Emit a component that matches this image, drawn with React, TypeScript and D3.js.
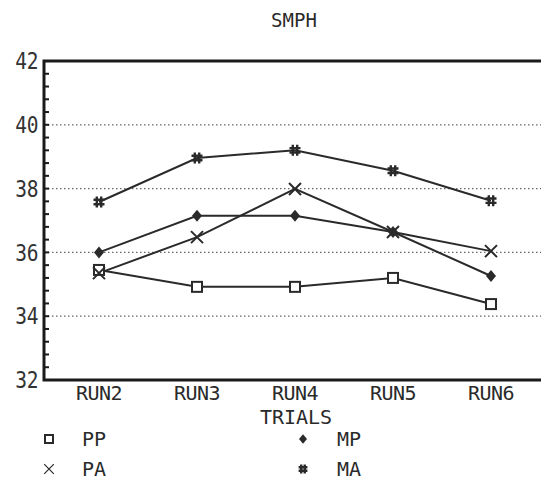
import React, { useRef, useEffect } from "react";
import * as d3 from "d3";

const trials = ["RUN2", "RUN3", "RUN4", "RUN5", "RUN6"];
const ppValues = [35.45, 34.92, 34.92, 35.2, 34.38];
const paValues = [35.35, 36.48, 37.99, 36.64, 36.04];
const mpValues = [36.0, 37.15, 37.15, 36.64, 35.26];
const maValues = [37.58, 38.96, 39.2, 38.56, 37.62];
const yTicks = [32, 34, 36, 38, 40, 42];
const gridTicks = [34, 36, 38, 40];

const seriesList = [
  { name: "PP", values: ppValues, marker: "square" },
  { name: "PA", values: paValues, marker: "x" },
  { name: "MP", values: mpValues, marker: "diamond" },
  { name: "MA", values: maValues, marker: "hash" },
];

const font = "'DejaVu Sans Mono', monospace";
const ink = "#2a2a2a";

const drawMarker = (g, type, x, y, big = true) => {
  const s = big ? 1 : 0.8;
  if (type === "square") {
    g.append("rect")
      .attr("x", x - 5 * s)
      .attr("y", y - 5 * s)
      .attr("width", 10 * s)
      .attr("height", 10 * s)
      .attr("fill", "#fff")
      .attr("stroke", ink)
      .attr("stroke-width", 2);
  } else if (type === "diamond") {
    g.append("path")
      .attr("d", `M${x},${y - 6 * s}L${x + 5 * s},${y}L${x},${y + 6 * s}L${x - 5 * s},${y}Z`)
      .attr("fill", ink);
  } else if (type === "x") {
    const r = 6 * s;
    g.append("path")
      .attr("d", `M${x - r},${y - r}L${x + r},${y + r}M${x - r},${y + r}L${x + r},${y - r}`)
      .attr("stroke", ink)
      .attr("stroke-width", big ? 2 : 1.2)
      .attr("fill", "none");
  } else {
    const r = 5.5 * s;
    const o = 2.2 * s;
    g.append("path")
      .attr(
        "d",
        `M${x - o},${y - r}L${x - o},${y + r}M${x + o},${y - r}L${x + o},${y + r}` +
          `M${x - r},${y - o}L${x + r},${y - o}M${x - r},${y + o}L${x + r},${y + o}`
      )
      .attr("stroke", ink)
      .attr("stroke-width", 2.4)
      .attr("fill", "none");
  }
};

const App = () => {
  const svgRef = useRef(null);

  useEffect(() => {
    const width = 541;
    const height = 481;
    const left = 44;
    const top = 61;
    const bottom = 380;
    const right = 545;

    const svg = d3.select(svgRef.current).attr("width", width).attr("height", height);
    svg.selectAll("*").remove();

    const x = d3.scalePoint().domain(trials).range([99, 491]);
    const y = d3.scaleLinear().domain([32, 42]).range([bottom, top]);

    // dotted grid
    svg
      .append("g")
      .selectAll("line")
      .data(gridTicks)
      .join("line")
      .attr("x1", left)
      .attr("x2", right)
      .attr("y1", (d) => y(d))
      .attr("y2", (d) => y(d))
      .attr("stroke", "#666")
      .attr("stroke-width", 1.2)
      .attr("stroke-dasharray", "1.5,2.5");

    // frame
    svg
      .append("path")
      .attr("d", `M${right},${top}L${left},${top}L${left},${bottom}L${right},${bottom}`)
      .attr("fill", "none")
      .attr("stroke", "#1a1a1a")
      .attr("stroke-width", 3);

    // minor ticks every 0.4
    const minor = d3.range(0, 26).map((i) => 32 + i * 0.4);
    svg
      .append("g")
      .selectAll("line")
      .data(minor)
      .join("line")
      .attr("x1", left)
      .attr("x2", left + 5)
      .attr("y1", (d) => y(d))
      .attr("y2", (d) => y(d))
      .attr("stroke", "#1a1a1a")
      .attr("stroke-width", 2);

    // y labels (tall, narrow plotter digits)
    svg
      .append("g")
      .selectAll("text")
      .data(yTicks)
      .join("text")
      .attr("transform", (d) => `translate(38,${y(d)}) scale(0.85,1)`)
      .attr("dy", "0.36em")
      .attr("text-anchor", "end")
      .attr("font-family", font)
      .attr("font-size", 23)
      .attr("letter-spacing", -0.5)
      .attr("fill", "#333")
      .text((d) => d);

    // x labels
    svg
      .append("g")
      .selectAll("text")
      .data(trials)
      .join("text")
      .attr("x", (d) => x(d))
      .attr("y", 400)
      .attr("text-anchor", "middle")
      .attr("font-family", font)
      .attr("font-size", 20)
      .attr("letter-spacing", -0.5)
      .attr("fill", ink)
      .text((d) => d);

    svg
      .append("text")
      .attr("x", 296)
      .attr("y", 424)
      .attr("text-anchor", "middle")
      .attr("font-family", font)
      .attr("font-size", 20)
      .attr("fill", ink)
      .text("TRIALS");

    svg
      .append("text")
      .attr("x", 294)
      .attr("y", 27)
      .attr("text-anchor", "middle")
      .attr("font-family", font)
      .attr("font-size", 19)
      .attr("fill", ink)
      .text("SMPH");

    // lines
    const line = d3
      .line()
      .x((d, i) => x(trials[i]))
      .y((d) => y(d));

    seriesList.forEach((s) => {
      svg
        .append("path")
        .datum(s.values)
        .attr("d", line)
        .attr("fill", "none")
        .attr("stroke", ink)
        .attr("stroke-width", 2);
    });

    seriesList.forEach((s) => {
      const g = svg.append("g");
      s.values.forEach((v, i) => drawMarker(g, s.marker, x(trials[i]), y(v)));
    });

    // legend
    const legendPos = [
      { mx: 49, tx: 82, ty: 439 },
      { mx: 49, tx: 82, ty: 469 },
      { mx: 303, tx: 337, ty: 439 },
      { mx: 303, tx: 337, ty: 469 },
    ];
    seriesList.forEach((s, i) => {
      const p = legendPos[i];
      const g = svg.append("g");
      drawMarker(g, s.marker, p.mx, p.ty, false);
      g.append("text")
        .attr("x", p.tx)
        .attr("y", p.ty)
        .attr("dy", "0.36em")
        .attr("font-family", font)
        .attr("font-size", 20)
        .attr("fill", ink)
        .text(s.name);
    });
  }, []);

  return <svg ref={svgRef} style={{ position: "absolute", left: 0, top: 0, background: "#fff" }}></svg>;
};

export default App;
